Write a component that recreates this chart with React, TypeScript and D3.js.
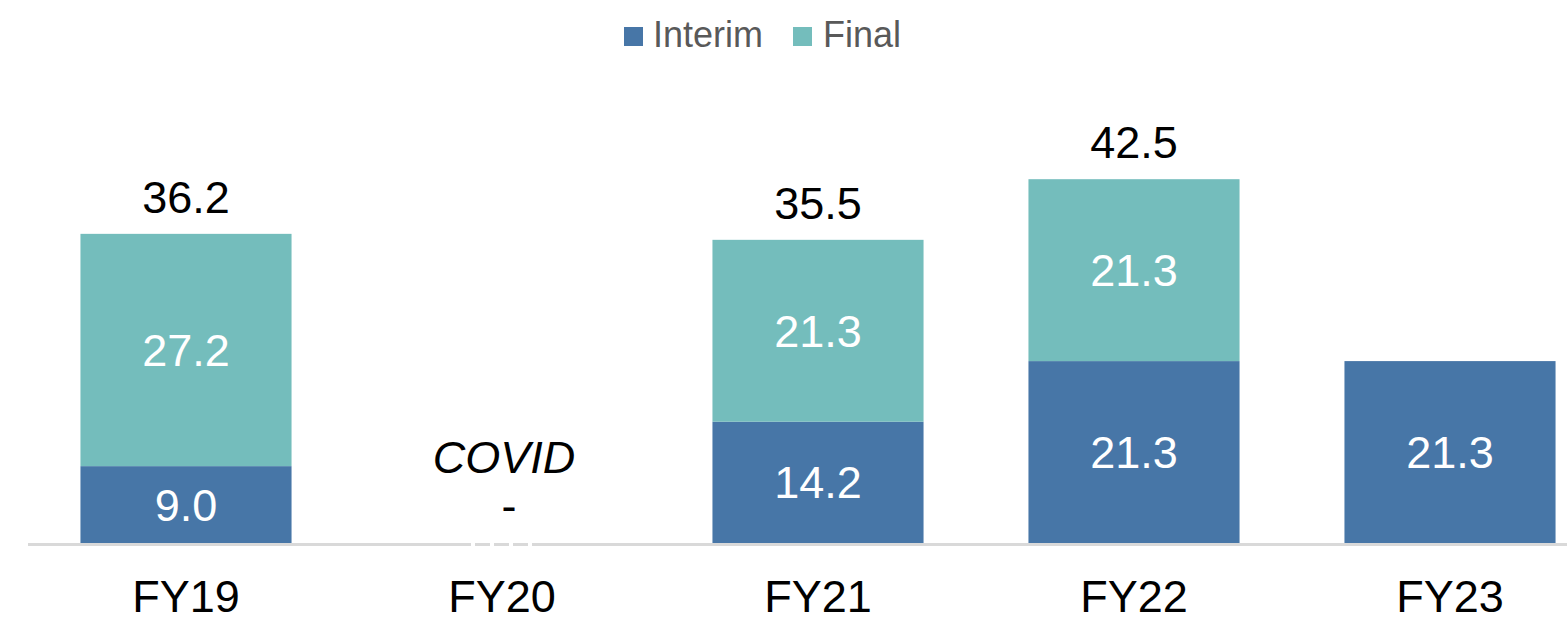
import { scaleBand, scaleLinear } from 'd3'

const categories = ['FY19', 'FY20', 'FY21', 'FY22', 'FY23']
const interim = [9.0, 0, 14.2, 21.3, 21.3]
const finalDiv = [27.2, 0, 21.3, 21.3, 0]
const totals: (number | null)[] = [36.2, null, 35.5, 42.5, null]
const notes = ['', 'COVID', '', '', '']
const legendItems = ['Interim', 'Final']

const colors = { interim: '#4776a7', final: '#74bdbc' }
const font = '"Liberation Sans", Arial, sans-serif'

export default function App() {
  const width = 1567
  const height = 620
  const base = 543

  const x = scaleBand<string>()
    .domain(categories)
    .range([28, 28 + 316 * categories.length])
    .paddingInner(0.332)
    .paddingOuter(0.166)
  const y = scaleLinear().domain([0, 50]).range([base, base - 427])

  const fmt = (v: number) => v.toFixed(1)

  return (
    <svg
      width={width}
      height={height}
      style={{ position: 'absolute', left: 0, top: 0, fontFamily: font }}
    >
      {/* legend */}
      <g>
        <rect x={624} y={27} width={19} height={19} fill={colors.interim} />
        <text x={653} y={47} fontSize={36} fill="#595959">{legendItems[0]}</text>
        <rect x={793} y={27} width={19} height={19} fill={colors.final} />
        <text x={823} y={47} fontSize={36} fill="#595959">{legendItems[1]}</text>
      </g>

      {categories.map((c, i) => {
        const x0 = x(c) ?? 0
        const bw = x.bandwidth()
        const cx = x0 + bw / 2
        const iTop = y(interim[i])
        const fTop = y(interim[i] + finalDiv[i])
        const total = totals[i]
        return (
          <g key={c}>
            {interim[i] > 0 && (
              <rect x={x0} y={iTop} width={bw} height={base - iTop} fill={colors.interim} />
            )}
            {finalDiv[i] > 0 && (
              <rect x={x0} y={fTop} width={bw} height={iTop - fTop} fill={colors.final} />
            )}
            {interim[i] > 0 && (
              <text x={cx} y={(iTop + base) / 2 + 16} textAnchor="middle" fontSize={45} fill="#fff">
                {fmt(interim[i])}
              </text>
            )}
            {finalDiv[i] > 0 && (
              <text x={cx} y={(fTop + iTop) / 2 + 16} textAnchor="middle" fontSize={45} fill="#fff">
                {fmt(finalDiv[i])}
              </text>
            )}
            {total !== null && (
              <text x={cx} y={fTop - 21} textAnchor="middle" fontSize={45} fill="#000">
                {fmt(total)}
              </text>
            )}
            {interim[i] === 0 && (
              <>
                <text x={cx + 2} y={473} textAnchor="middle" fontSize={45} fontStyle="italic" fill="#000">
                  {notes[i]}
                </text>
                <text x={cx + 7} y={521} textAnchor="middle" fontSize={45} fill="#000">
                  -
                </text>
              </>
            )}
            <text x={cx} y={612} textAnchor="middle" fontSize={45} fill="#000">
              {c}
            </text>
          </g>
        )
      })}

      {/* baseline */}
      <line x1={28} x2={width} y1={544.5} y2={544.5} stroke="#d9d9d9" strokeWidth={3} />
      {interim.map((v, i) =>
        v === 0 ? (
          <line
            key={`gap-${i}`}
            x1={(x(categories[i]) ?? 0) + x.bandwidth() / 2 - 31}
            x2={(x(categories[i]) ?? 0) + x.bandwidth() / 2 + 31}
            y1={544.5}
            y2={544.5}
            stroke="#fff"
            strokeWidth={3}
            strokeDasharray="4 15"
          />
        ) : null,
      )}
    </svg>
  )
}
